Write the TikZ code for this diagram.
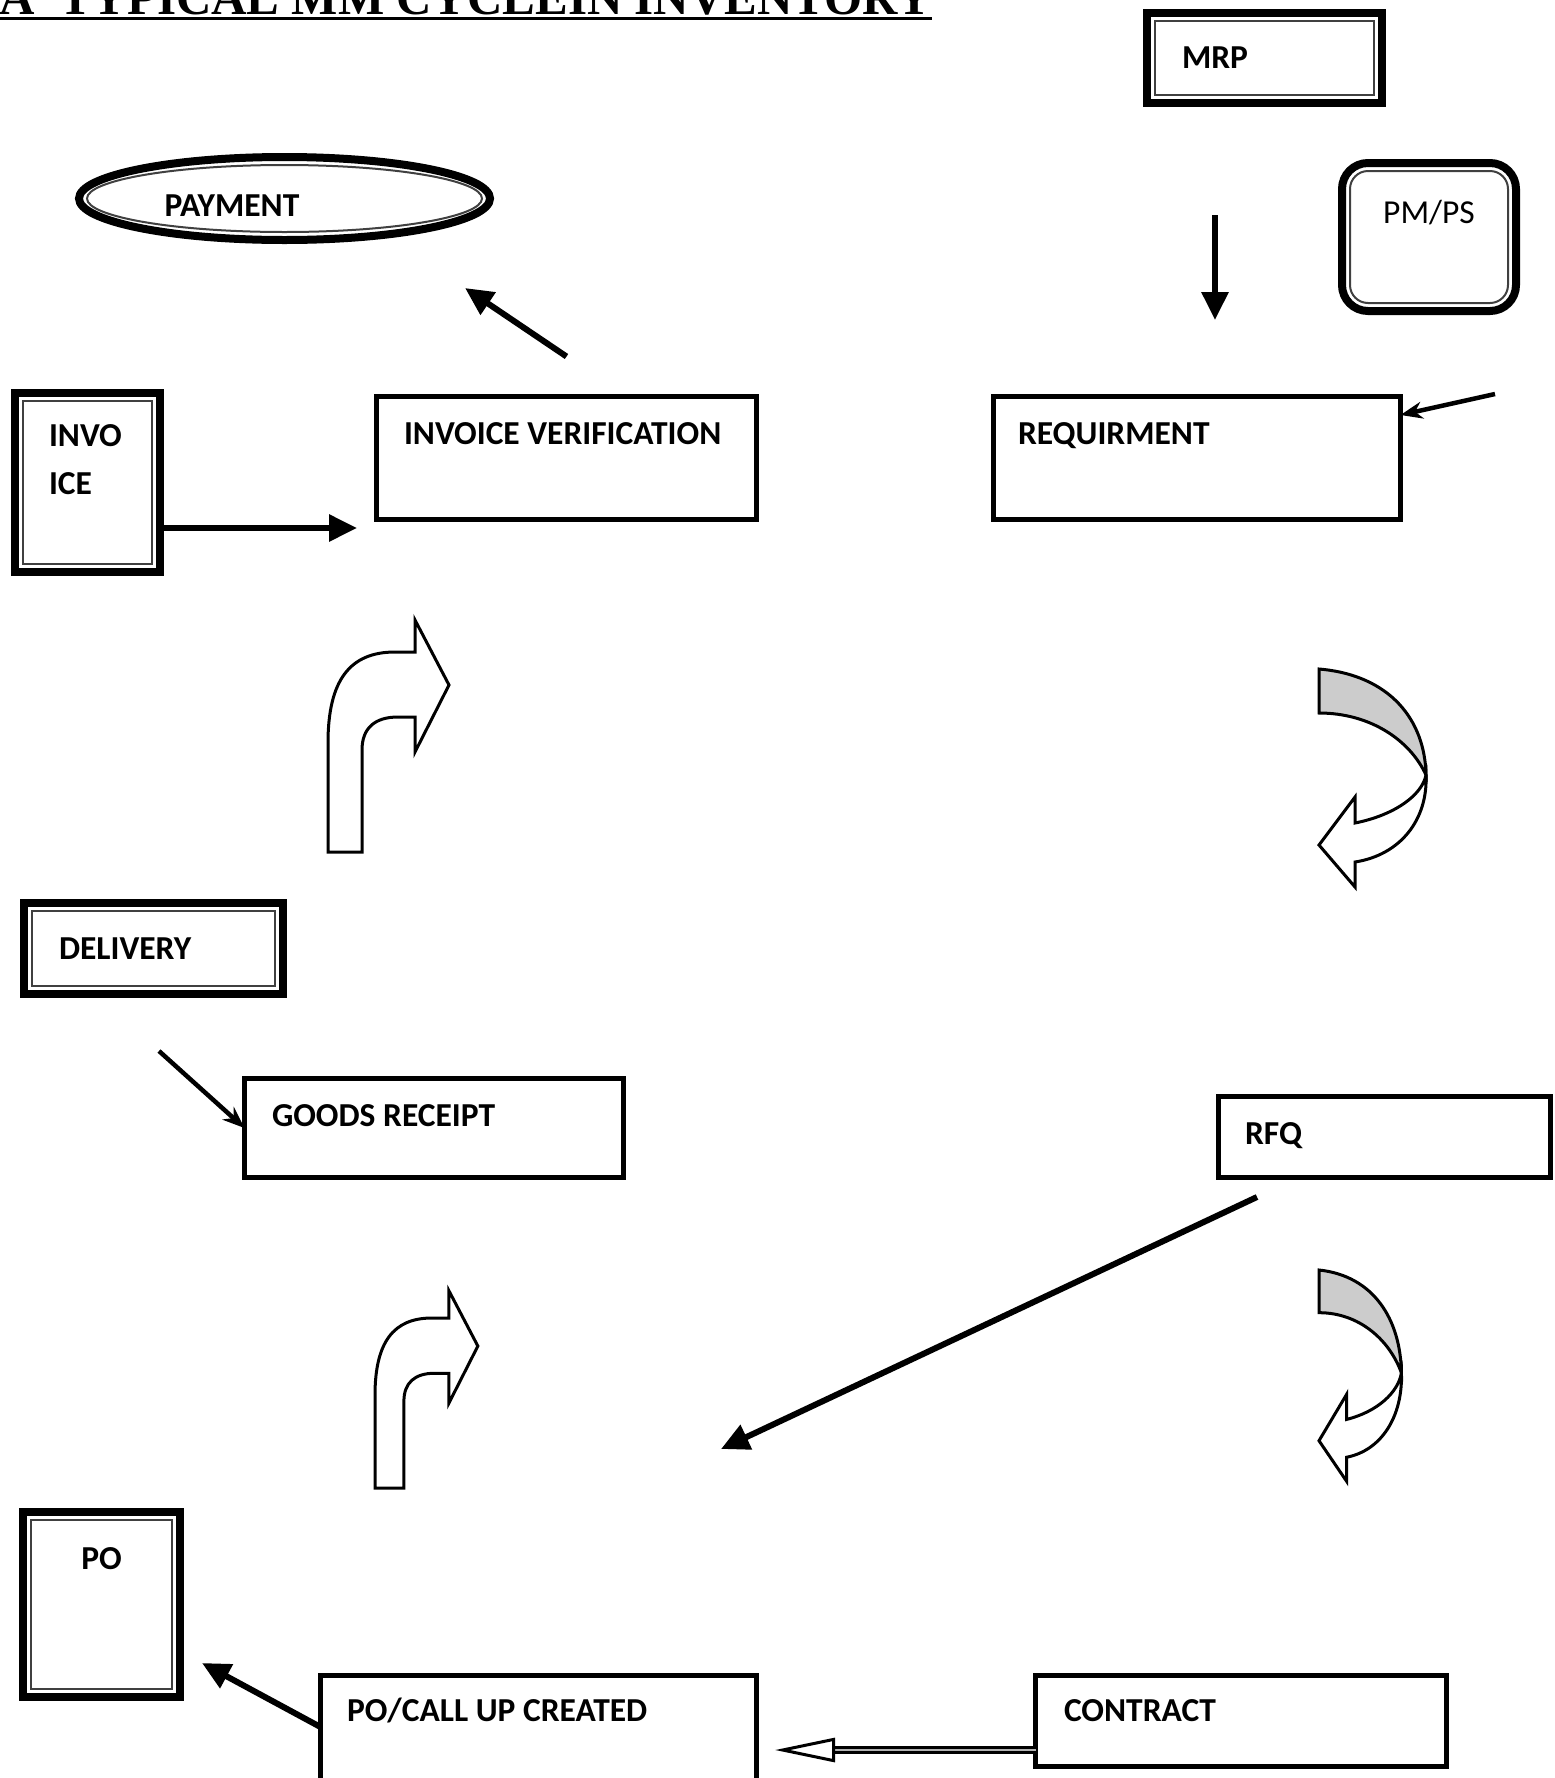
\documentclass[tikz,border=0pt]{standalone}
\usepackage{fontspec}
\setmainfont{Carlito}
\newfontfamily\titlefont{Liberation Serif}
\usetikzlibrary{arrows.meta,shapes.geometric,calc}
\tikzset{box/.style={draw,line width=5pt,fill=white,anchor=north west,outer sep=0pt,inner ysep=0pt,align=left,font=\bfseries\fontsize{33.5}{48}\selectfont,execute at begin node={\spaceskip=0pt\relax}}}
\tikzset{dbox/.style={box,line width=8pt,path picture={\draw[line width=2pt,black!75] ([shift={(8pt,-8pt)}]path picture bounding box.north west) rectangle ([shift={(-8pt,8pt)}]path picture bounding box.south east);}}}
\tikzset{rbox/.style={box,line width=8pt,rounded corners=26pt,align=center,font=\fontsize{33.5}{48}\selectfont,path picture={\draw[line width=2pt,black!75,rounded corners=18pt] ([shift={(8pt,-8pt)}]path picture bounding box.north west) rectangle ([shift={(-8pt,8pt)}]path picture bounding box.south east);}}}
\tikzset{ell/.style={ellipse,draw,line width=8pt,fill=white,outer sep=0pt,inner sep=0pt,align=left,font=\bfseries\fontsize{33.5}{48}\selectfont,path picture={\draw[line width=2pt,black!75] (path picture bounding box.center) ellipse [x radius=197.5pt,y radius=33.5pt];}}}
\tikzset{titletext/.style={inner sep=0pt,font=\titlefont\bfseries\fontsize{49}{55}\selectfont}}
\tikzset{arr/.style={line width=6pt,-{Triangle[length=28pt,width=26pt]}}}
\tikzset{thinarr/.style={line width=4.5pt,-{Stealth[length=22pt,width=17pt]}}}
\tikzset{dblarr/.style={line width=2.5pt,double=gray!60,double distance=2.5pt,-{Triangle[open,length=60pt,width=24pt,line width=3pt,fill=white]}}}
\tikzset{blockarr/.style={draw,line width=3pt,fill=white,line join=miter}}
\tikzset{turnup/.pic={
  \draw[blockarr] (0,0) -- (0,-109) .. controls (0,-172) and (22,-200) .. (67,-200) -- (87,-200) -- (87,-232)
    -- (121,-167) -- (87,-100) -- (87,-135) -- (70,-135) .. controls (47,-135) and (34,-124) .. (34,-102) -- (34,0) -- cycle;}}
\tikzset{uturn/.pic={
  \draw[blockarr,fill=gray!40] (0,0) .. controls (71,6) and (106,51) .. (107,106) .. controls (91,71) and (51,44) .. (0,44) -- cycle;
  \draw[blockarr] (107,106) .. controls (109,151) and (81,186) .. (36,193) -- (36,218) -- (0,176) -- (36,128) -- (36,154)
    .. controls (76,146) and (103,126) .. (107,106) -- cycle;}}

\begin{document}
\begin{tikzpicture}[x=1pt,y=-1pt]
  \useasboundingbox (0,0) rectangle (1555,1778);
  % title
  \node[titletext,anchor=base west] (title) at (-1,14) {A\ \ TYPICAL MM CYCLEIN INVENTORY};
  \draw[line width=3pt] ([yshift=-4pt]title.base west) -- ([yshift=-4pt]title.base east);

  \node[dbox,text width=165pt,inner xsep=35pt,text height=55pt,text depth=35pt] (mrp) at (1147,13) {MRP};
  \node[rbox,text width=154pt,inner xsep=10pt,text height=60pt,text depth=88pt] (pmps) at (1342,163) {PM/PS};
  \node[ell,minimum width=411pt,minimum height=83pt,text width=240pt,text height=40pt,text depth=5pt] (pay) at (284.5,198.5) {PAYMENT};
  \node[dbox,text width=77pt,inner xsep=34pt,text height=53pt,text depth=126pt] (inv) at (15,393) {INVO\\ICE};
  \node[box,text width=325pt,inner xsep=27.5pt,text height=47.5pt,text depth=75.5pt] (iv) at (376.5,396.5) {INVOICE VERIFICATION};
  \node[box,text width=358pt,inner xsep=24.5pt,text height=47.5pt,text depth=75.5pt] (req) at (993.5,396.5) {REQUIRMENT};
  \node[dbox,text width=189pt,inner xsep=35pt,text height=56pt,text depth=35pt] (del) at (24,903) {DELIVERY};
  \node[box,text width=324pt,inner xsep=27.5pt,text height=47.5pt,text depth=51.5pt] (gr) at (244.5,1078.5) {GOODS RECEIPT};
  \node[box,text width=279pt,inner xsep=26.5pt,text height=47.5pt,text depth=33.5pt] (rfq) at (1218.5,1096.5) {RFQ};
  \node[dbox,align=center,text width=137pt,inner xsep=10pt,text height=57pt,text depth=128pt] (po) at (23,1512) {PO};
  \node[box,text width=383pt,inner xsep=26.5pt,text height=45.5pt,text depth=79pt] (pocu) at (320.5,1675.5) {PO/CALL UP CREATED};
  \node[box,text width=354pt,inner xsep=28.5pt,text height=45.5pt,text depth=45.5pt] (con) at (1035.5,1675.5) {CONTRACT};

  % free ends
  \coordinate (pay-in) at (465,288);
  \coordinate (mrp-out) at (1215,215);
  \coordinate (req-in) at (1215,320);
  \coordinate (pm-out) at (1495,394);
  \coordinate (iv-in) at (357,528);
  \coordinate (del-out) at (159,1051);
  \coordinate (rfq-out) at (1257,1197);
  \coordinate (rfq-in) at (721,1449);
  \coordinate (po-in) at (202,1663);
  \coordinate (pocu-in) at (775,1750);

  \draw[arr] ([yshift=40pt]iv.north) -- (pay-in);
  \draw[arr] (mrp-out) -- (req-in);
  \draw[thinarr] (pm-out) -- ([yshift=-18.5pt]req.north east);
  \draw[arr] (inv.east |- iv-in) -- (iv-in);
  \draw[thinarr] (del-out) -- (gr.west);
  \draw[arr] (rfq-out) -- (rfq-in);
  \draw[arr] ([yshift=-51.5pt]pocu.north west) -- (po-in);
  \draw[dblarr] (con.west |- pocu-in) -- (pocu-in);

  % block arrows
  \pic at (328,852) {turnup};
  \pic[scale=0.85] at (375,1488) {turnup};
  \pic at (1319,669) {uturn};
  \pic[xscale=0.77,yscale=0.97] at (1319,1270) {uturn};
\end{tikzpicture}
\end{document}
